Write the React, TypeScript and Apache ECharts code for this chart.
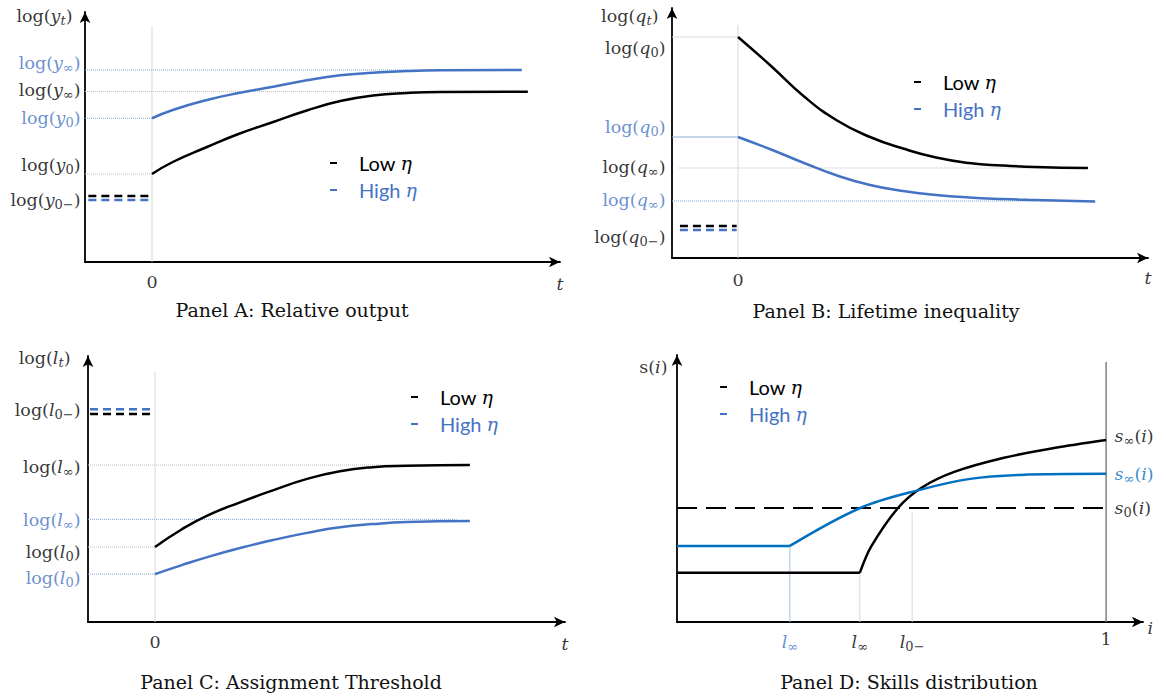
import React, { useEffect, useRef } from "react";
import * as echarts from "echarts";

type P = [number, number];

const BLACK = "#000000";
const BLUE = "#4472C4";
const BLUE_D = "#0070C0";
const GUIDE_K = "#bfbfbf";
const GUIDE_B = "#7aa5dc";
const ZERO_LINE = "#d9d9d9";
const SERIF = "DejaVu Serif";

// ---------- Panel A: Relative output ----------
const aLow: P[] = [[0, 3.52], [0.31, 4.0], [0.82, 4.6], [1.31, 5.14], [1.81, 5.6], [2.31, 6.06], [2.81, 6.44], [3.3, 6.66], [3.81, 6.76], [4.3, 6.8], [5.61, 6.81]];
const aHigh: P[] = [[0, 5.75], [0.31, 6.08], [0.82, 6.48], [1.31, 6.77], [1.81, 7.01], [2.31, 7.27], [2.81, 7.47], [3.3, 7.57], [3.81, 7.64], [4.3, 7.67], [5.52, 7.68]];
const aPreLow = 2.64;
const aPreHigh = 2.48;
const aInfLow = 6.82;
const aInfHigh = 7.68;
const aTicks: [string, string, string, number][] = [
  ["y", "∞", "b", 7.96],
  ["y", "∞", "k", 6.88],
  ["y", "0", "b", 5.76],
  ["y", "0", "k", 3.88],
  ["y", "0−", "k", 2.48],
];

// ---------- Panel B: Lifetime inequality ----------
const bLow: P[] = [[0, 8.84], [0.5, 7.68], [1, 6.46], [1.5, 5.5], [2, 4.84], [2.5, 4.38], [3, 4.02], [3.5, 3.8], [4, 3.7], [4.5, 3.64], [5.3, 3.6]];
const bHigh: P[] = [[0, 4.84], [0.5, 4.34], [1, 3.8], [1.5, 3.3], [2, 2.92], [2.5, 2.68], [3, 2.52], [3.5, 2.42], [4, 2.36], [4.5, 2.32], [5.41, 2.26]];
const bPreLow = 1.28;
const bPreHigh = 1.12;
const bInfLow = 3.6;
const bInfHigh = 2.28;
const bTicks: [string, string, string, number][] = [
  ["q", "0", "k", 8.4],
  ["q", "0", "b", 5.24],
  ["q", "∞", "k", 3.64],
  ["q", "∞", "b", 2.32],
  ["q", "0−", "k", 0.84],
];

// ---------- Panel C: Assignment Threshold ----------
const cLow: P[] = [[0, 2.82], [0.39, 3.47], [0.78, 4.0], [1.27, 4.5], [1.76, 4.95], [2.27, 5.38], [2.76, 5.67], [3.25, 5.82], [3.76, 5.87], [4.7, 5.9]];
const cHigh: P[] = [[0, 1.8], [0.39, 2.13], [0.78, 2.44], [1.27, 2.78], [1.76, 3.08], [2.27, 3.35], [2.76, 3.56], [3.25, 3.68], [3.76, 3.76], [4.7, 3.8]];
const cPreLow = 7.82;
const cPreHigh = 8.0;
const cInfLow = 5.9;
const cInfHigh = 3.86;
const cTicks: [string, string, string, number][] = [
  ["l", "0−", "k", 7.97],
  ["l", "∞", "k", 5.83],
  ["l", "∞", "b", 3.83],
  ["l", "0", "k", 2.63],
  ["l", "0", "b", 1.65],
];

// ---------- Panel D: Skills distribution ----------
const dLowFlat: P[] = [[0, 1.84], [0.426, 1.84]];
const dLowRise: P[] = [[0.426, 1.84], [0.452, 2.81], [0.515, 4.27], [0.569, 5.02], [0.646, 5.62], [0.762, 6.15], [0.879, 6.52], [1.0, 6.82]];
const dHighFlat: P[] = [[0, 2.85], [0.263, 2.85]];
const dHighRise: P[] = [[0.263, 2.85], [0.427, 4.27], [0.566, 4.95], [0.683, 5.36], [0.8, 5.51], [1.0, 5.55]];
const dS0 = 4.27;
const dThresholds = [0.263, 0.426, 0.548]; // l_inf (high), l_inf (low), l_0-
const dRightTicks: [string, string, number][] = [
  ["∞", "k", 6.97],
  ["∞", "d", 5.54],
  ["0", "k", 4.27],
];

const panelTitles = [
  "Panel A: Relative output",
  "Panel B: Lifetime inequality",
  "Panel C: Assignment Threshold",
  "Panel D: Skills distribution",
];

const COLORS: Record<string, string> = { k: BLACK, b: BLUE, d: BLUE_D };
const RICH: Record<string, any> = {};
Object.keys(COLORS).forEach((c) => {
  const color = COLORS[c];
  RICH["n" + c] = { fontFamily: SERIF, fontSize: 17.5, color, lineHeight: 22 };
  RICH["v" + c] = { fontFamily: SERIF, fontStyle: "italic", fontSize: 17.5, color, lineHeight: 22 };
  RICH["s" + c] = { fontFamily: SERIF, fontSize: 13, color, lineHeight: 12, verticalAlign: "bottom" };
  RICH["si" + c] = { fontFamily: SERIF, fontStyle: "italic", fontSize: 13, color, lineHeight: 12, verticalAlign: "bottom" };
});

const logLab = (v: string, sub: string, c: string) =>
  `{n${c}|log(}{v${c}|${v}}{${sub === "t" ? "si" : "s"}${c}|${sub}}{n${c}|)}`;

type LabelItem = { pos: P; text: string; position: string; distance: number; offset?: [number, number] };

function labelSeries(gi: number, items: LabelItem[]) {
  return {
    type: "scatter",
    xAxisIndex: gi,
    yAxisIndex: gi,
    symbolSize: 1,
    silent: true,
    z: 10,
    itemStyle: { color: "rgba(0,0,0,0)" },
    data: items.map((it) => ({
      value: it.pos,
      label: {
        show: true,
        position: it.position,
        distance: it.distance,
        offset: it.offset || [0, 0],
        formatter: it.text,
        rich: RICH,
      },
    })),
  };
}

function seg(gi: number, pts: P[], color: string, width: number, type: any, z = 2) {
  return {
    type: "line",
    xAxisIndex: gi,
    yAxisIndex: gi,
    data: pts,
    symbol: "none",
    silent: true,
    z,
    lineStyle: { color, width, type },
  };
}

function curve(gi: number, name: string, pts: P[], color: string, smooth: number | boolean = 0.5) {
  return {
    type: "line",
    name,
    xAxisIndex: gi,
    yAxisIndex: gi,
    data: pts,
    symbol: "none",
    smooth,
    silent: true,
    z: 5,
    itemStyle: { color },
    lineStyle: { color, width: 2.5 },
  };
}

const grids = [
  { left: 85, top: 12, width: 475, height: 250 },
  { left: 672, top: 8, width: 476, height: 250 },
  { left: 88, top: 356, width: 477, height: 266 },
  { left: 677, top: 355, width: 466, height: 267 },
];
const xRanges: P[] = [[-1, 6.09], [-1, 6.21], [-1, 6.12], [0, 1.086]];

const axisBase = (gi: number, min: number, max: number) => ({
  type: "value",
  gridIndex: gi,
  min,
  max,
  axisLine: {
    show: true,
    onZero: false,
    symbol: ["none", "arrow"],
    symbolSize: [8, 11],
    lineStyle: { color: BLACK, width: 1.8 },
  },
  axisTick: { show: false },
  axisLabel: { show: false },
  splitLine: { show: false },
});

const titlePos: P[] = [[292, 310], [886, 311], [291, 682], [909, 682]];
const legendPos: P[] = [[330, 153], [914, 72], [411, 387], [720, 377]];

function buildOption() {
  const series: any[] = [];

  // Panel A
  series.push(seg(0, [[0, 0], [0, 9.44]], ZERO_LINE, 1, "solid", 1));
  series.push(seg(0, [[-1, aInfHigh], [5.5, aInfHigh]], GUIDE_B, 1, "dotted"));
  series.push(seg(0, [[-1, aInfLow], [5.5, aInfLow]], GUIDE_K, 1, "dotted"));
  series.push(seg(0, [[-1, aHigh[0][1]], [0, aHigh[0][1]]], GUIDE_B, 1, "dotted"));
  series.push(seg(0, [[-1, aLow[0][1]], [0, aLow[0][1]]], GUIDE_K, 1, "dotted"));
  series.push(seg(0, [[-0.95, aPreLow], [-0.03, aPreLow]], BLACK, 2.5, [8, 5], 4));
  series.push(seg(0, [[-0.95, aPreHigh], [-0.03, aPreHigh]], BLUE, 2.5, [8, 5], 4));
  series.push(curve(0, "Low η", aLow, BLACK));
  series.push(curve(0, "High η", aHigh, BLUE));
  series.push(
    labelSeries(0, [
      { pos: [-1, 10], text: logLab("y", "t", "k"), position: "left", distance: 12, offset: [0, 4] },
      ...aTicks.map(([v, s, c, y]) => ({ pos: [-1, y] as P, text: logLab(v, s, c), position: "left", distance: 4 })),
      { pos: [0, 0], text: "{nk|0}", position: "bottom", distance: 8 },
      { pos: [xRanges[0][1], 0], text: "{vk|t}", position: "bottom", distance: 10 },
    ])
  );

  // Panel B
  series.push(seg(1, [[0, 0], [0, 9.32]], ZERO_LINE, 1, "solid", 1));
  series.push(seg(1, [[-1, bLow[0][1]], [0, bLow[0][1]]], ZERO_LINE, 1, "solid"));
  series.push(seg(1, [[-1, bHigh[0][1]], [0, bHigh[0][1]]], "#8eaadb", 1, "solid"));
  series.push(seg(1, [[-0.91, bInfLow], [5.3, bInfLow]], GUIDE_K, 1, "dotted"));
  series.push(seg(1, [[-1, bInfHigh], [5.4, bInfHigh]], GUIDE_B, 1, "dotted"));
  series.push(seg(1, [[-0.88, bPreLow], [-0.02, bPreLow]], BLACK, 2.5, [8, 5], 4));
  series.push(seg(1, [[-0.88, bPreHigh], [-0.02, bPreHigh]], BLUE, 2.5, [8, 5], 4));
  series.push(curve(1, "Low η", bLow, BLACK));
  series.push(curve(1, "High η", bHigh, BLUE));
  series.push(
    labelSeries(1, [
      { pos: [-1, 10], text: logLab("q", "t", "k"), position: "left", distance: 13, offset: [0, 8] },
      ...bTicks.map(([v, s, c, y]) => ({ pos: [-1, y] as P, text: logLab(v, s, c), position: "left", distance: 6 })),
      { pos: [0, 0], text: "{nk|0}", position: "bottom", distance: 10 },
      { pos: [xRanges[1][1], 0], text: "{vk|t}", position: "bottom", distance: 8 },
    ])
  );

  // Panel C
  series.push(seg(2, [[0, 0], [0, 9.4]], ZERO_LINE, 1, "solid", 1));
  series.push(seg(2, [[-1, cInfLow], [4.7, cInfLow]], GUIDE_K, 1, "dotted"));
  series.push(seg(2, [[-1, cInfHigh], [4.5, cInfHigh]], GUIDE_B, 1, "dotted"));
  series.push(seg(2, [[-1, cLow[0][1]], [0, cLow[0][1]]], GUIDE_K, 1, "dotted"));
  series.push(seg(2, [[-1, cHigh[0][1]], [0, cHigh[0][1]]], GUIDE_B, 1, "dotted"));
  series.push(seg(2, [[-0.97, cPreHigh], [-0.03, cPreHigh]], BLUE, 2.5, [8, 5], 4));
  series.push(seg(2, [[-0.97, cPreLow], [-0.03, cPreLow]], BLACK, 2.5, [8, 5], 4));
  series.push(curve(2, "Low η", cLow, BLACK));
  series.push(curve(2, "High η", cHigh, BLUE));
  series.push(
    labelSeries(2, [
      { pos: [-1, 10], text: logLab("l", "t", "k"), position: "left", distance: 17, offset: [0, 2] },
      ...cTicks.map(([v, s, c, y]) => ({ pos: [-1, y] as P, text: logLab(v, s, c), position: "left", distance: 7 })),
      { pos: [0, 0], text: "{nk|0}", position: "bottom", distance: 8 },
      { pos: [xRanges[2][1], 0], text: "{vk|t}", position: "bottom", distance: 10 },
    ])
  );

  // Panel D
  series.push(seg(3, [[1, 0], [1, 9.74]], "#808080", 1.5, "solid", 1));
  series.push(seg(3, [[dThresholds[0], 0], [dThresholds[0], dHighFlat[0][1]]], "#9dc3e6", 1, "solid", 1));
  series.push(seg(3, [[dThresholds[1], 0], [dThresholds[1], dLowFlat[0][1]]], ZERO_LINE, 1, "solid", 1));
  series.push(seg(3, [[dThresholds[2], 0], [dThresholds[2], 4.1]], ZERO_LINE, 1, "solid", 1));
  series.push(seg(3, [[0, dS0], [1, dS0]], BLACK, 2, [20, 9], 3));
  series.push(curve(3, "Low η", dLowFlat, BLACK, false));
  series.push(curve(3, "Low η", dLowRise, BLACK, 0.3));
  series.push(curve(3, "High η", dHighFlat, BLUE_D, false));
  series.push(curve(3, "High η", dHighRise, BLUE_D, 0.35));
  series.push(
    labelSeries(3, [
      { pos: [0, 10], text: "{nk|s(}{vk|i}{nk|)}", position: "left", distance: 9, offset: [0, 12] },
      { pos: [dThresholds[0], 0], text: "{vb|l}{sb|∞}", position: "bottom", distance: 8 },
      { pos: [dThresholds[1], 0], text: "{vk|l}{sk|∞}", position: "bottom", distance: 8 },
      { pos: [dThresholds[2], 0], text: "{vk|l}{sk|0−}", position: "bottom", distance: 8 },
      { pos: [1, 0], text: "{nk|1}", position: "bottom", distance: 5 },
      { pos: [xRanges[3][1], 0], text: "{vk|i}", position: "right", distance: 4, offset: [0, 6] },
      ...dRightTicks.map(([s, c, y]) => ({
        pos: [1, y] as P,
        text: `{v${c}|s}{s${c}|${s}}{n${c}|(}{v${c}|i}{n${c}|)}`,
        position: "right",
        distance: 8,
      })),
    ])
  );

  return {
    animation: false,
    backgroundColor: "#ffffff",
    grid: grids.map((g) => ({ ...g, containLabel: false })),
    xAxis: xRanges.map((r, i) => axisBase(i, r[0], r[1])),
    yAxis: grids.map((_, i) => axisBase(i, 0, 10)),
    legend: legendPos.map(([x, y]) => ({
      left: x,
      top: y,
      orient: "vertical",
      padding: 0,
      itemGap: 7,
      itemWidth: 7,
      itemHeight: 2,
      icon: "rect",
      selectedMode: false,
      data: ["Low η", "High η"],
      formatter: (name: string) => (name === "Low η" ? "{lk|Low }{ek|η}" : "{lb|High }{eb|η}"),
      textStyle: {
        rich: {
          lk: { fontFamily: "Lato", fontSize: 20, color: BLACK, padding: [0, 0, 0, 17], lineHeight: 20 },
          ek: { fontFamily: SERIF, fontStyle: "italic", fontSize: 19, color: BLACK, lineHeight: 20 },
          lb: { fontFamily: "Lato", fontSize: 20, color: BLUE, padding: [0, 0, 0, 17], lineHeight: 20 },
          eb: { fontFamily: SERIF, fontStyle: "italic", fontSize: 19, color: BLUE, lineHeight: 20 },
        },
      },
    })),
    graphic: panelTitles.map((t, i) => ({
      type: "text",
      x: titlePos[i][0],
      y: titlePos[i][1],
      silent: true,
      style: {
        text: t,
        font: `19px "${SERIF}"`,
        fill: "#111111",
        textAlign: "center",
        textVerticalAlign: "middle",
      },
    })),
    series,
  };
}

export default function App() {
  const ref = useRef<HTMLDivElement>(null);
  useEffect(() => {
    if (!ref.current) return;
    const chart = echarts.init(ref.current, undefined, { renderer: "svg" });
    chart.setOption(buildOption() as any);
    return () => chart.dispose();
  }, []);
  return (
    <div
      ref={ref}
      style={{ position: "fixed", left: 0, top: 0, width: 1166, height: 700, background: "#fff" }}
    />
  );
}
